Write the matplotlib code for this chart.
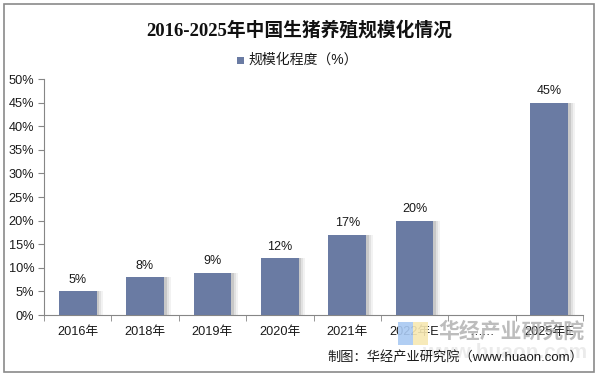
import numpy as np
import matplotlib
matplotlib.use("Agg")
import matplotlib.pyplot as plt
from matplotlib.patches import Rectangle

plt.rcParams['font.family'] = ['Liberation Sans', 'Noto Sans CJK SC', 'DejaVu Sans']

categories = ["2016年", "2018年", "2019年", "2020年", "2021年", "2022年E", "……", "2025年E"]
values = [5, 8, 9, 12, 17, 20, np.nan, 45]
series_name = "规模化程度（%）"
title = "2016-2025年中国生猪养殖规模化情况"
source = "制图：华经产业研究院（www.huaon.com）"
yticks = [0, 5, 10, 15, 20, 25, 30, 35, 40, 45, 50]

W, H = 598, 378
fig = plt.figure(figsize=(W / 100, H / 100), dpi=100)
fig.patch.set_facecolor("white")

def fx(px):
    return px / W

def fy(py):
    return 1 - py / H

ax = fig.add_axes([fx(44), fy(315), fx(583) - fx(44), fy(79) - fy(315)])

bar_color = "#6a7ba3"
x = np.arange(len(categories))
vals = np.array(values, dtype=float)
mask = ~np.isnan(vals)

# shadow layers
for off, a in [(0.10, 0.10), (0.07, 0.15), (0.04, 0.25)]:
    ax.bar(x[mask] + off, vals[mask], width=0.56, color="#808080", alpha=a,
           zorder=1, linewidth=0)
ax.bar(x[mask], vals[mask], width=0.56, color=bar_color, zorder=3, linewidth=0)

for xi, v in zip(x[mask], vals[mask]):
    ax.annotate(f"{v:.0f}%", (xi, v), xytext=(0, 4), textcoords="offset points",
                ha="center", va="bottom", fontsize=9, color="#1a1a1a")

ax.set_xlim(-0.5, len(categories) - 0.5)
ax.set_ylim(0, 50)
ax.set_yticks(yticks)
ax.set_yticklabels([f"{t}%" for t in yticks], fontsize=9.2, color="#1a1a1a")
ax.set_xticks(x)
ax.set_xticklabels(categories, fontsize=9.2, color="#1a1a1a")
ax.tick_params(axis="x", length=0, pad=8)
ax.set_xticks(np.arange(len(categories) + 1) - 0.5, minor=True)
ax.tick_params(axis="x", which="minor", length=4, color="#868686", direction="out")
ax.tick_params(axis="y", length=4, color="#868686", direction="out", pad=3)
for s in ["top", "right"]:
    ax.spines[s].set_visible(False)
for s in ["left", "bottom"]:
    ax.spines[s].set_color("#868686")
    ax.spines[s].set_linewidth(0.8)

# title
fig.text(0.5, fy(30), title, ha="center", va="center", fontsize=13.5,
         fontweight="bold", family=["Liberation Serif", "Noto Sans CJK SC"], color="#111111")

# legend
fig.patches.append(Rectangle((fx(237), fy(64)), fx(7), 7 / H, transform=fig.transFigure,
                             facecolor=bar_color, edgecolor="none"))
fig.text(fx(248), fy(60), series_name, ha="left", va="center", fontsize=10,
         color="#1a1a1a")

# watermark logo & text
fig.patches.append(Rectangle((fx(398), fy(345)), fx(15), 23 / H, transform=fig.transFigure,
                             facecolor="#a9c9f2", edgecolor="none", alpha=0.9, zorder=5))
fig.patches.append(Rectangle((fx(413), fy(345)), fx(15), 23 / H, transform=fig.transFigure,
                             facecolor="#f7e8b2", edgecolor="none", alpha=0.9, zorder=5))
fig.text(fx(511), fy(331), "华经产业研究院", ha="center", va="center", fontsize=15,
         fontweight="bold", family=["Noto Sans CJK SC"], color="#9a9a9a", alpha=0.65, zorder=6)
fig.text(fx(505), fy(352), "www.huaon.com", ha="center", va="center", fontsize=15,
         fontweight="bold", color="#c8c8c8", alpha=0.35, zorder=4)

# source
fig.text(fx(583), fy(357), source, ha="right", va="center", fontsize=9.5,
         color="#1a1a1a", zorder=7)

# outer border
fig.patches.append(Rectangle((fx(4), fy(372)), fx(590), 368 / H, transform=fig.transFigure,
                             facecolor="none", edgecolor="#8a8a8a", linewidth=1.2))

fig.savefig("out.png", dpi=100)
